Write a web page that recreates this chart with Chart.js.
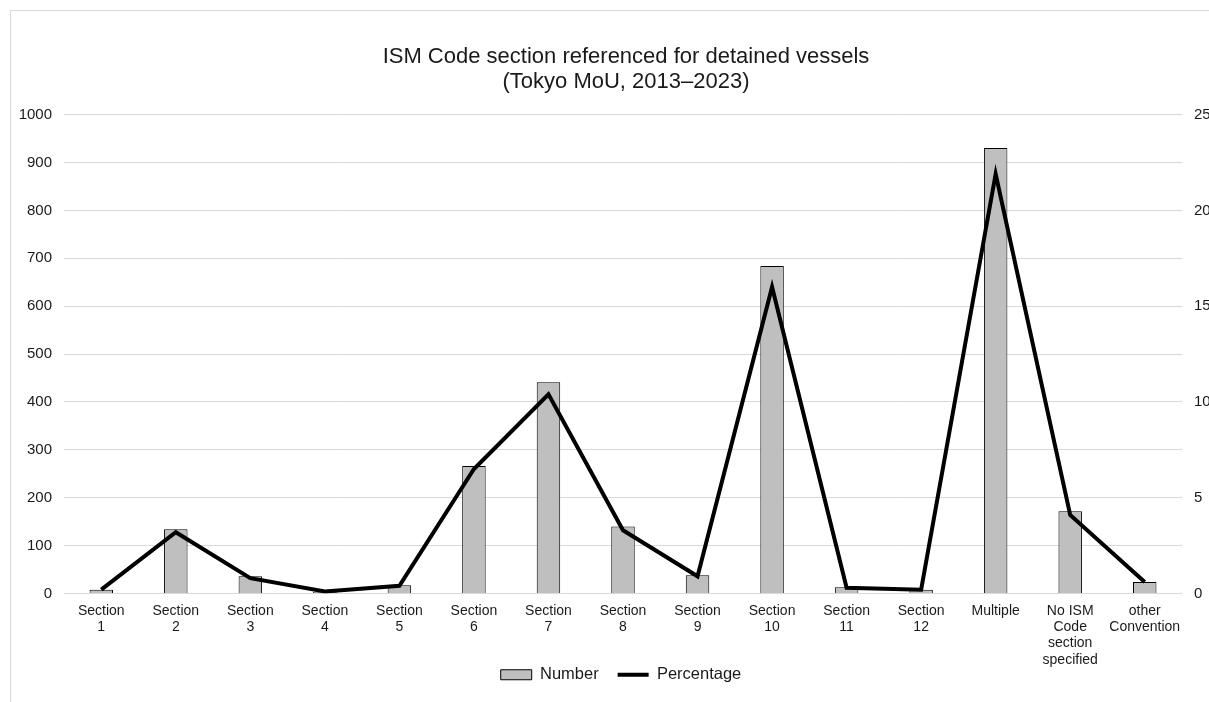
<!DOCTYPE html>
<html>
<head>
<meta charset="utf-8">
<title>ISM Code section referenced for detained vessels</title>
<script src="https://cdn.jsdelivr.net/npm/chart.js@4"></script>
<style>
  html, body { margin: 0; padding: 0; background: #ffffff; overflow: hidden; width: 1209px; height: 702px; }
  #frame { position: absolute; left: 10px; top: 10px; width: 1230px; height: 703px; border: 1px solid #d9d9d9; background: #ffffff; }
  canvas { display: block; }
</style>
</head>
<body>
<div id="frame"><canvas id="chart" width="1230" height="703"></canvas></div>
<script>
// Categories (ISM Code sections) shown on the x axis
const categories = [
  ['Section', '1'], ['Section', '2'], ['Section', '3'], ['Section', '4'], ['Section', '5'],
  ['Section', '6'], ['Section', '7'], ['Section', '8'], ['Section', '9'], ['Section', '10'],
  ['Section', '11'], ['Section', '12'], 'Multiple',
  ['No ISM', 'Code', 'section', 'specified'], ['other', 'Convention']
];

// Number of detentions referencing each section (left axis)
const numbers = [8, 134, 36, 3, 17, 266, 441, 140, 38, 684, 13, 8, 930, 172, 24];

// Share of detentions, in percent (right axis)
const percentages = [0.2, 3.2, 0.8, 0.1, 0.4, 6.5, 10.4, 3.3, 0.9, 16.0, 0.3, 0.2, 21.9, 4.1, 0.6];

const titleLines = ['ISM Code section referenced for detained vessels', '(Tokyo MoU, 2013\u20132023)'];

const FONT = "'Liberation Sans', Arial, Helvetica, sans-serif";
const TEXT = '#1a1a1a';
const GRID = '#d9d9d9';

// The legend sits snugly under the category labels, overlapping the axis box a little
const legendNudge = {
  id: 'legendNudge',
  afterLayout(chart) {
    const lg = chart.legend;
    if (lg) {
      lg.top -= 21; lg.bottom -= 21;
      lg.left -= 5; lg.right -= 5;
    }
  }
};

new Chart(document.getElementById('chart'), {
  data: {
    labels: categories,
    datasets: [
      {
        type: 'line',
        label: 'Percentage',
        data: percentages,
        yAxisID: 'yPct',
        borderColor: '#000000',
        backgroundColor: '#000000',
        borderWidth: 4,
        pointRadius: 0,
        pointHoverRadius: 0,
        pointStyle: 'line',
        tension: 0,
        borderJoinStyle: 'miter'
      },
      {
        type: 'bar',
        label: 'Number',
        data: numbers,
        yAxisID: 'yNum',
        backgroundColor: '#bfbfbf',
        borderColor: '#000000',
        borderWidth: 1,
        pointStyle: 'rect',
        barPercentage: 0.315,
        categoryPercentage: 1.0
      }
    ]
  },
  plugins: [legendNudge],
  options: {
    responsive: false,
    animation: false,
    devicePixelRatio: 1,
    layout: { padding: { left: 0, right: 0, top: 0, bottom: 0 } },
    plugins: {
      tooltip: { enabled: false },
      title: {
        display: true,
        text: titleLines,
        color: TEXT,
        font: { family: FONT, size: 22, weight: 'normal', lineHeight: 1.15 },
        padding: { top: 33, bottom: 20 }
      },
      legend: {
        display: true,
        position: 'bottom',
        reverse: true,
        labels: {
          color: TEXT,
          font: { family: FONT, size: 16.5 },
          usePointStyle: true,
          pointStyleWidth: 31,
          boxHeight: 10,
          padding: 19
        }
      }
    },
    scales: {
      x: {
        grid: { display: false, drawTicks: false },
        border: { display: false },
        ticks: {
          color: TEXT,
          font: { family: FONT, size: 14, lineHeight: 1.17 },
          padding: 9,
          maxRotation: 0,
          autoSkip: false
        },
        afterFit: (s) => { s.height = 75; }
      },
      yNum: {
        position: 'left',
        min: 0,
        max: 1000,
        ticks: { stepSize: 100, color: TEXT, font: { family: FONT, size: 15 }, padding: 12, callback: (v) => String(v) },
        grid: { color: GRID, lineWidth: 1, drawTicks: false },
        border: { display: false },
        afterFit: (s) => { s.width = 53; }
      },
      yPct: {
        position: 'right',
        min: 0,
        max: 25,
        ticks: { stepSize: 5, color: TEXT, font: { family: FONT, size: 15 }, padding: 12, callback: (v) => String(v) },
        grid: { drawOnChartArea: false, drawTicks: false },
        border: { display: false },
        afterFit: (s) => { s.width = 59; }
      }
    }
  }
});
</script>
</body>
</html>
